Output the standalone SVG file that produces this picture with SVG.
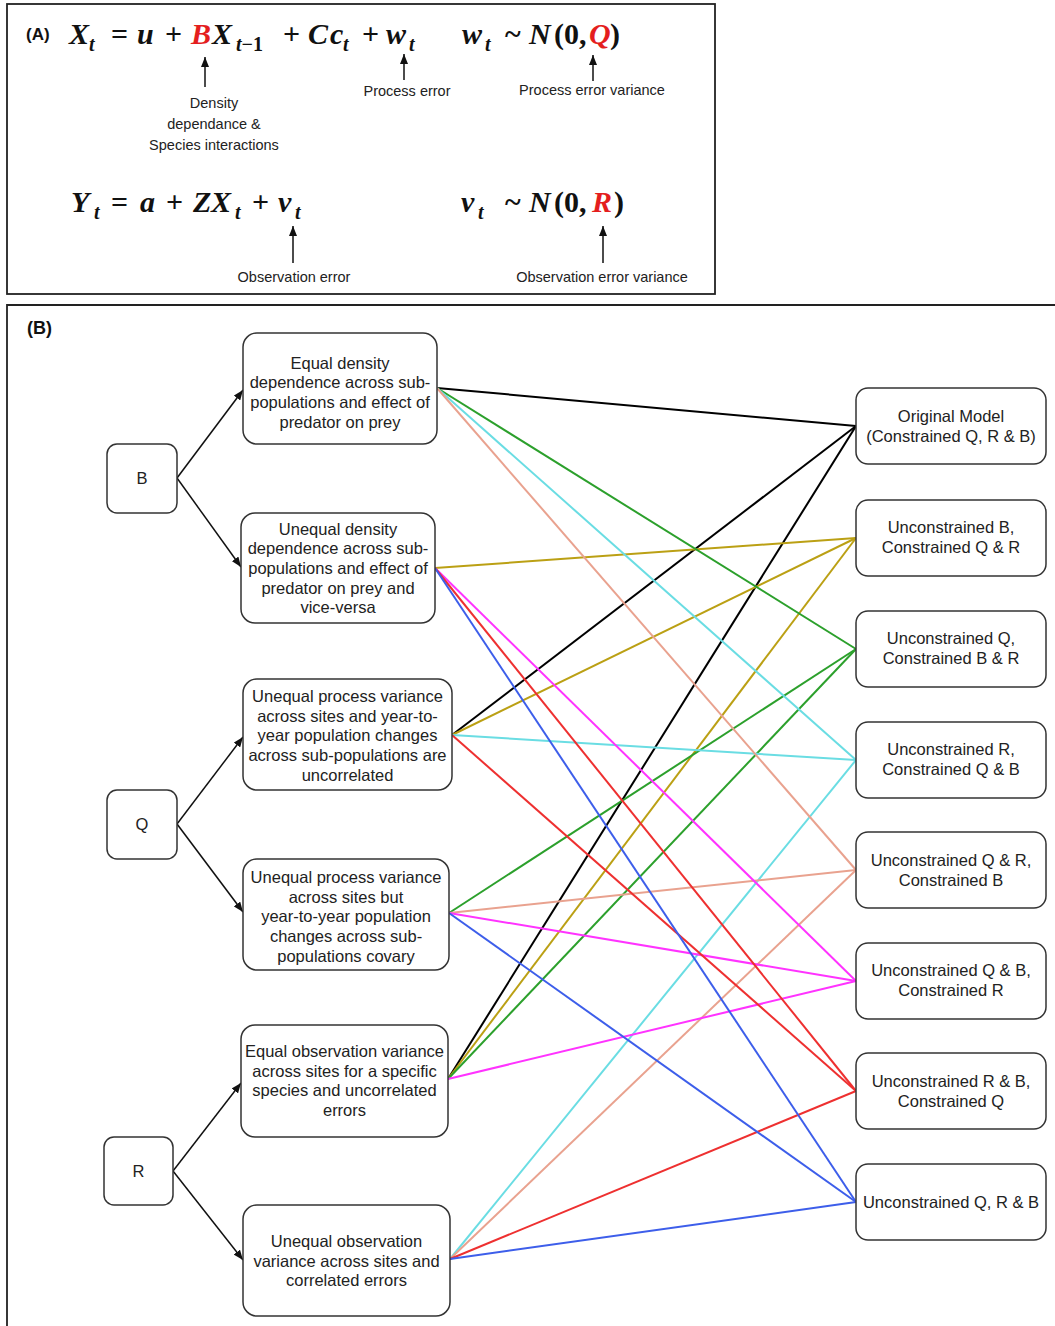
<svg xmlns="http://www.w3.org/2000/svg" width="1055" height="1326" viewBox="0 0 1055 1326">
<style>
.bg{fill:#fff}
.frame{fill:none;stroke:#222;stroke-width:1.8}
.m{font-family:"Liberation Serif",serif;font-weight:bold;font-style:italic;font-size:30px;fill:#111}
.up{font-style:normal}
.sub{font-size:20px}
.red{fill:#e41e1e}
.lbl{font-family:"Liberation Sans",Arial,sans-serif;font-size:14.5px;fill:#222;text-anchor:middle}
.tag{font-family:"Liberation Sans",Arial,sans-serif;font-weight:bold;fill:#111}
.box{fill:#fff;stroke:#333;stroke-width:1.5}
.t{font-family:"Liberation Sans",Arial,sans-serif;font-size:16.5px;fill:#222;text-anchor:middle}
.arr{stroke:#111;stroke-width:1.5;fill:none}
.c{stroke-width:2;fill:none}
</style>
<defs>
<marker id="ah" viewBox="0 0 10 8" refX="10" refY="4" markerWidth="10" markerHeight="8" markerUnits="userSpaceOnUse" orient="auto">
<path d="M0,0 L10,4 L0,8 Z" fill="#111"/>
</marker>
</defs>
<rect class="bg" x="0" y="0" width="1055" height="1326"/>

<!-- Panel A -->
<g id="panelA">
<rect class="frame" x="7" y="4" width="708" height="290"/>
<text class="tag" x="26" y="40" font-size="17">(A)</text>
<text class="m"><tspan x="69" y="44">X</tspan><tspan class="sub" x="89" y="51">t</tspan><tspan class="up" x="111" y="44">=</tspan><tspan x="137" y="44">u</tspan><tspan class="up" x="165" y="44">+</tspan><tspan class="red" x="191" y="44">B</tspan><tspan x="212" y="44">X</tspan><tspan class="sub" x="236" y="51">t</tspan><tspan class="sub up" y="51">−1</tspan><tspan class="up" x="283" y="44">+</tspan><tspan x="308" y="44">C</tspan><tspan x="330" y="44">c</tspan><tspan class="sub" x="343" y="51">t</tspan><tspan class="up" x="362" y="44">+</tspan><tspan x="386" y="44">w</tspan><tspan class="sub" x="409" y="51">t</tspan></text>
<text class="m"><tspan x="462" y="44">w</tspan><tspan class="sub" x="485" y="51">t</tspan><tspan class="up" x="505" y="44">~</tspan><tspan x="529" y="44">N</tspan><tspan class="up" x="554" y="44">(0,</tspan><tspan class="red" x="589" y="44">Q</tspan><tspan class="up" x="610" y="44">)</tspan></text>
<text class="m"><tspan x="71" y="212">Y</tspan><tspan class="sub" x="94" y="219">t</tspan><tspan class="up" x="111" y="212">=</tspan><tspan x="140" y="212">a</tspan><tspan class="up" x="166" y="212">+</tspan><tspan x="193" y="212">Z</tspan><tspan x="211" y="212">X</tspan><tspan class="sub" x="235" y="219">t</tspan><tspan class="up" x="252" y="212">+</tspan><tspan x="278" y="212">v</tspan><tspan class="sub" x="295" y="219">t</tspan></text>
<text class="m"><tspan x="461" y="212">v</tspan><tspan class="sub" x="478" y="219">t</tspan><tspan class="up" x="505" y="212">~</tspan><tspan x="529" y="212">N</tspan><tspan class="up" x="554" y="212">(0,</tspan><tspan class="red" x="592" y="212">R</tspan><tspan class="up" x="614" y="212">)</tspan></text>
<line class="arr" x1="205" y1="87" x2="205" y2="57" marker-end="url(#ah)"/>
<line class="arr" x1="404" y1="80" x2="404" y2="54" marker-end="url(#ah)"/>
<line class="arr" x1="593" y1="81" x2="593" y2="55" marker-end="url(#ah)"/>
<line class="arr" x1="293" y1="263" x2="293" y2="226" marker-end="url(#ah)"/>
<line class="arr" x1="603" y1="263" x2="603" y2="226" marker-end="url(#ah)"/>
<text class="lbl" x="214" y="108">Density</text>
<text class="lbl" x="214" y="129">dependance &amp;</text>
<text class="lbl" x="214" y="150">Species interactions</text>
<text class="lbl" x="407" y="96">Process error</text>
<text class="lbl" x="592" y="95">Process error variance</text>
<text class="lbl" x="294" y="282">Observation error</text>
<text class="lbl" x="602" y="282">Observation error variance</text>
</g>

<!-- Panel B frame -->
<g id="panelB-frame">
<path class="frame" d="M7,1326 L7,305 L1055,305"/>
<text class="tag" x="27" y="334" font-size="18">(B)</text>
</g>

<!-- Connectors -->
<g id="connectors">
<line class="arr" x1="177" y1="478" x2="243" y2="390" marker-end="url(#ah)"/>
<line class="arr" x1="177" y1="478" x2="241" y2="567" marker-end="url(#ah)"/>
<line class="arr" x1="177" y1="824" x2="243" y2="737" marker-end="url(#ah)"/>
<line class="arr" x1="177" y1="824" x2="243" y2="912" marker-end="url(#ah)"/>
<line class="arr" x1="173" y1="1171" x2="241" y2="1083" marker-end="url(#ah)"/>
<line class="arr" x1="173" y1="1171" x2="243" y2="1260" marker-end="url(#ah)"/>

<g class="c" stroke="#000">
<line x1="437" y1="388" x2="856" y2="426"/>
<line x1="452" y1="735" x2="856" y2="426"/>
<line x1="448" y1="1079" x2="856" y2="426"/>
</g>
<g class="c" stroke="#bba014">
<line x1="435" y1="568" x2="856" y2="538"/>
<line x1="452" y1="735" x2="856" y2="538"/>
<line x1="448" y1="1079" x2="856" y2="538"/>
</g>
<g class="c" stroke="#2ca02c">
<line x1="437" y1="388" x2="856" y2="649"/>
<line x1="449" y1="913" x2="856" y2="649"/>
<line x1="448" y1="1079" x2="856" y2="649"/>
</g>
<g class="c" stroke="#6adde3">
<line x1="437" y1="388" x2="856" y2="760"/>
<line x1="452" y1="735" x2="856" y2="760"/>
<line x1="450" y1="1259" x2="856" y2="760"/>
</g>
<g class="c" stroke="#e9a28f">
<line x1="437" y1="388" x2="856" y2="870"/>
<line x1="449" y1="913" x2="856" y2="870"/>
<line x1="450" y1="1259" x2="856" y2="870"/>
</g>
<g class="c" stroke="#ff33ff">
<line x1="435" y1="568" x2="856" y2="981"/>
<line x1="449" y1="913" x2="856" y2="981"/>
<line x1="448" y1="1079" x2="856" y2="981"/>
</g>
<g class="c" stroke="#ee3030">
<line x1="435" y1="568" x2="856" y2="1091"/>
<line x1="452" y1="735" x2="856" y2="1091"/>
<line x1="450" y1="1259" x2="856" y2="1091"/>
</g>
<g class="c" stroke="#3d5eea">
<line x1="435" y1="568" x2="856" y2="1202"/>
<line x1="449" y1="913" x2="856" y2="1202"/>
<line x1="450" y1="1259" x2="856" y2="1202"/>
</g>
</g>

<!-- Left category nodes -->
<g id="node-B"><rect class="box" x="107" y="444" width="70" height="69" rx="10"/><text class="t" x="142" y="484">B</text></g>
<g id="node-Q"><rect class="box" x="107" y="790" width="70" height="69" rx="10"/><text class="t" x="142" y="830">Q</text></g>
<g id="node-R"><rect class="box" x="104" y="1137" width="69" height="68" rx="10"/><text class="t" x="138.5" y="1177">R</text></g>

<!-- Middle option nodes -->
<g id="node-B1"><rect class="box" x="243" y="333" width="194" height="111" rx="14"/>
<text class="t"><tspan x="340" y="368.5">Equal density</tspan><tspan x="340" dy="19.7">dependence across sub-</tspan><tspan x="340" dy="19.7">populations and effect of</tspan><tspan x="340" dy="19.7">predator on prey</tspan></text></g>
<g id="node-B2"><rect class="box" x="241" y="513" width="194" height="110" rx="14"/>
<text class="t"><tspan x="338" y="534.5">Unequal density</tspan><tspan x="338" dy="19.7">dependence across sub-</tspan><tspan x="338" dy="19.7">populations and effect of</tspan><tspan x="338" dy="19.7">predator on prey and</tspan><tspan x="338" dy="19.7">vice-versa</tspan></text></g>
<g id="node-Q1"><rect class="box" x="243" y="679" width="209" height="111" rx="14"/>
<text class="t"><tspan x="347.5" y="702">Unequal process variance</tspan><tspan x="347.5" dy="19.7">across sites and year-to-</tspan><tspan x="347.5" dy="19.7">year population changes</tspan><tspan x="347.5" dy="19.7">across sub-populations are</tspan><tspan x="347.5" dy="19.7">uncorrelated</tspan></text></g>
<g id="node-Q2"><rect class="box" x="243" y="859" width="206" height="111" rx="14"/>
<text class="t"><tspan x="346" y="883">Unequal process variance</tspan><tspan x="346" dy="19.7">across sites but</tspan><tspan x="346" dy="19.7">year-to-year population</tspan><tspan x="346" dy="19.7">changes across sub-</tspan><tspan x="346" dy="19.7">populations covary</tspan></text></g>
<g id="node-R1"><rect class="box" x="241" y="1025" width="207" height="112" rx="14"/>
<text class="t"><tspan x="344.5" y="1057">Equal observation variance</tspan><tspan x="344.5" dy="19.7">across sites for a specific</tspan><tspan x="344.5" dy="19.7">species and uncorrelated</tspan><tspan x="344.5" dy="19.7">errors</tspan></text></g>
<g id="node-R2"><rect class="box" x="243" y="1205" width="207" height="111" rx="14"/>
<text class="t"><tspan x="346.5" y="1247">Unequal observation</tspan><tspan x="346.5" dy="19.7">variance across sites and</tspan><tspan x="346.5" dy="19.7">correlated errors</tspan></text></g>

<!-- Right model nodes -->
<g id="model-1"><rect class="box" x="856" y="388" width="190" height="76" rx="12"/>
<text class="t"><tspan x="951" y="422">Original Model</tspan><tspan x="951" dy="20">(Constrained Q, R &amp; B)</tspan></text></g>
<g id="model-2"><rect class="box" x="856" y="500" width="190" height="76" rx="12"/>
<text class="t"><tspan x="951" y="533">Unconstrained B,</tspan><tspan x="951" dy="20">Constrained Q &amp; R</tspan></text></g>
<g id="model-3"><rect class="box" x="856" y="611" width="190" height="76" rx="12"/>
<text class="t"><tspan x="951" y="644">Unconstrained Q,</tspan><tspan x="951" dy="20">Constrained B &amp; R</tspan></text></g>
<g id="model-4"><rect class="box" x="856" y="722" width="190" height="76" rx="12"/>
<text class="t"><tspan x="951" y="755">Unconstrained R,</tspan><tspan x="951" dy="20">Constrained Q &amp; B</tspan></text></g>
<g id="model-5"><rect class="box" x="856" y="832" width="190" height="76" rx="12"/>
<text class="t"><tspan x="951" y="866">Unconstrained Q &amp; R,</tspan><tspan x="951" dy="20">Constrained B</tspan></text></g>
<g id="model-6"><rect class="box" x="856" y="943" width="190" height="76" rx="12"/>
<text class="t"><tspan x="951" y="976">Unconstrained Q &amp; B,</tspan><tspan x="951" dy="20">Constrained R</tspan></text></g>
<g id="model-7"><rect class="box" x="856" y="1053" width="190" height="76" rx="12"/>
<text class="t"><tspan x="951" y="1087">Unconstrained R &amp; B,</tspan><tspan x="951" dy="20">Constrained Q</tspan></text></g>
<g id="model-8"><rect class="box" x="856" y="1164" width="190" height="76" rx="12"/>
<text class="t" x="951" y="1207.5">Unconstrained Q, R &amp; B</text></g>
</svg>
